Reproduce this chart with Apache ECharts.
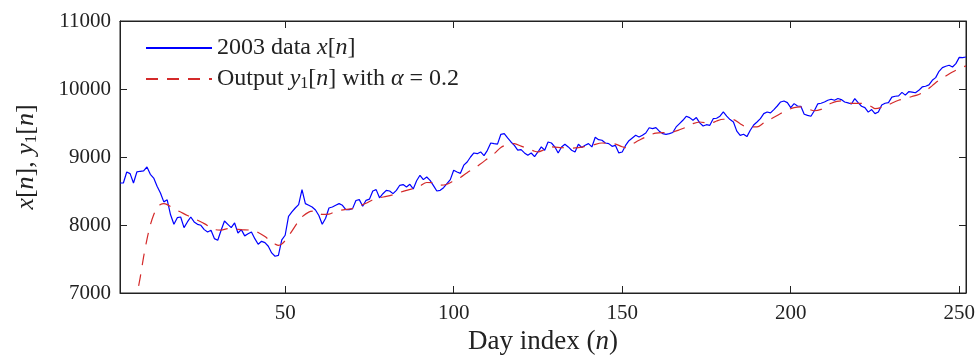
<!DOCTYPE html>
<html>
<head>
<meta charset="utf-8">
<script src="https://cdn.jsdelivr.net/npm/echarts@6/dist/echarts.min.js"></script>
<style>
html,body{margin:0;padding:0;background:#fff;}
#chart{width:977px;height:358px;}
</style>
</head>
<body>
<div id="chart"></div>
<script>
// 2003 data x[n], one value per trading day n = 1..252
const blueValues = [
  8618, 8618, 8780, 8755, 8618, 8780, 8790, 8795, 8853, 8745,
  8690, 8570, 8470, 8340, 8370, 8150, 8010, 8108, 8118, 7961,
  8045, 8118, 8045, 8010, 7996, 7932, 7898, 7922, 7800, 7775,
  7922, 8059, 8010, 7961, 8030, 7883, 7932, 7840, 7870, 7898,
  7799, 7716, 7760, 7740, 7687, 7589, 7540, 7554, 7780, 7849,
  8128, 8192, 8250, 8300, 8520, 8314, 8290, 8265, 8220, 8140,
  8010, 8100, 8250, 8265, 8290, 8314, 8290, 8226, 8226, 8241,
  8360, 8373, 8275, 8363, 8380, 8500, 8520, 8400, 8460, 8510,
  8500, 8461, 8510, 8584, 8594, 8559, 8598, 8530, 8650, 8731,
  8667, 8706, 8657, 8580, 8500, 8510, 8549, 8608, 8667, 8804,
  8780, 8760, 8880, 8927, 9000, 9059, 9049, 9074, 9020, 9098,
  9206, 9196, 9190, 9334, 9343, 9280, 9221, 9170, 9100, 9108,
  9060, 9025, 9059, 9005, 9074, 9148, 9099, 9221, 9206, 9150,
  9059, 9148, 9187, 9148, 9099, 9074, 9187, 9140, 9172, 9197,
  9148, 9290, 9255, 9246, 9206, 9197, 9157, 9170, 9060, 9074,
  9170, 9240, 9280, 9319, 9295, 9319, 9353, 9430, 9417, 9432,
  9380, 9344, 9334, 9344, 9360, 9442, 9491, 9540, 9599, 9579,
  9540, 9580, 9501, 9455, 9475, 9466, 9564, 9570, 9600, 9662,
  9600, 9550, 9515, 9380, 9319, 9334, 9300, 9393, 9470, 9515,
  9564, 9638, 9662, 9648, 9697, 9750, 9809, 9824, 9800, 9726,
  9785, 9750, 9746, 9628, 9613, 9599, 9680, 9780, 9790, 9809,
  9834, 9850, 9834, 9860, 9844, 9809, 9795, 9780, 9858, 9800,
  9746, 9726, 9660, 9697, 9638, 9662, 9765, 9790, 9800, 9880,
  9893, 9900, 9950, 9910, 9960, 9955, 9945, 9980, 10030, 10040,
  10060, 10128, 10167, 10260, 10314, 10334, 10350, 10324, 10373, 10465,
  10461, 10471
];

// Output y1[n], read at the listed days
const redDays = [
  1, 2, 3, 4, 5, 6, 7, 8, 9, 10, 11, 12, 13, 14, 15, 17, 19, 21, 23, 26,
  29, 31, 33, 35, 37, 40, 42, 44, 46, 47, 48, 49, 50, 52, 54, 55, 57, 59, 61, 63,
  65, 68, 70, 72, 74, 76, 78, 80, 82, 84, 86, 88, 90, 92, 94, 96, 98, 100, 102, 104,
  106, 108, 110, 112, 114, 116, 118, 120, 122, 124, 125, 127, 129, 132, 135, 137, 139, 141, 144, 146,
  148, 150, 151, 153, 155, 158, 160, 163, 165, 167, 169, 171, 173, 175, 176, 178, 180, 183, 185, 187,
  190, 192, 194, 197, 199, 201, 203, 205, 207, 209, 210, 212, 215, 218, 220, 222, 224, 225, 227, 229,
  232, 234, 236, 238, 240, 242, 244, 246, 248, 250, 252
];
const redValues = [
  3100, 4240, 5140, 5840, 6430, 6950, 7230, 7530, 7790, 8000, 8150, 8250, 8300, 8314, 8300, 8240, 8190, 8140, 8094, 8020,
  7935, 7925, 7946, 7940, 7932, 7922, 7890, 7830, 7750, 7720, 7700, 7720, 7770, 7910, 8060, 8120, 8190, 8205, 8155, 8160,
  8200, 8230, 8241, 8280, 8320, 8370, 8400, 8420, 8445, 8480, 8510, 8535, 8575, 8625, 8620, 8585, 8600, 8650, 8700, 8770,
  8830, 8900, 8975, 9049, 9140, 9185, 9197, 9160, 9123, 9085, 9074, 9110, 9148, 9138, 9130, 9138, 9155, 9172, 9206, 9200,
  9190, 9150, 9138, 9190, 9245, 9319, 9350, 9360, 9368, 9400, 9440, 9490, 9515, 9500, 9491, 9530, 9555, 9550, 9490, 9442,
  9442, 9500, 9555, 9640, 9690, 9726, 9736, 9710, 9680, 9700, 9736, 9790, 9824, 9790, 9790, 9785, 9740, 9711, 9730, 9770,
  9834, 9860, 9890, 9920, 9971, 10050, 10130, 10190, 10250, 10300, 10340
];

const xTickValues = [50, 100, 150, 200, 250];
const yMin = 7000, yMax = 11000, yStep = 1000;
const xMin = 1, xMax = 252;

const blueData = blueValues.map((v, i) => [i + 1, v]);
const redData = redDays.map((d, i) => [d, redValues[i]]);

const FONT = '"Liberation Serif", "DejaVu Serif", serif';
function richSet(size, sub, lh) {
  return {
    i: { fontFamily: FONT, fontStyle: 'italic', fontSize: size, color: '#222', lineHeight: lh },
    s: { fontFamily: FONT, fontSize: sub, color: '#222', verticalAlign: 'bottom', padding: [Math.round(size * 0.35), 0, 0, 0], lineHeight: lh },
    t: { fontFamily: FONT, fontSize: size, color: '#222', lineHeight: lh }
  };
}

const chart = echarts.init(document.getElementById('chart'), null, { renderer: 'canvas' });
chart.setOption({
  animation: false,
  backgroundColor: '#fff',
  grid: { left: 120, right: 11, top: 21, bottom: 65, outerBoundsMode: 'none', containLabel: false, show: true, borderColor: '#222', borderWidth: 1, backgroundColor: 'transparent' },
  legend: {
    orient: 'vertical', left: 140, top: 31, itemWidth: 66, itemHeight: 14, itemGap: 7,
    data: ['blue', 'red'],
    itemStyle: { opacity: 0 },
    formatter: function (name) {
      return name === 'blue' ? '{t|2003 data }{i|x}{t|[}{i|n}{t|]}'
        : '{t|Output }{i|y}{s|1}{t|[}{i|n}{t|] with }{i|α}{t| = 0.2}';
    },
    textStyle: { fontFamily: FONT, fontSize: 24, color: '#222', rich: richSet(24, 16, 26) }
  },
  xAxis: [{
    type: 'value', min: xMin, max: xMax, position: 'bottom',
    name: 'Day index ({i|n})', nameLocation: 'middle', nameGap: 35,
    nameTextStyle: { fontFamily: FONT, fontSize: 27, color: '#222', rich: { i: { fontFamily: FONT, fontStyle: 'italic', fontSize: 27, color: '#222' } } },
    axisLine: { show: true, onZero: false, lineStyle: { color: '#222', width: 1 } },
    axisTick: { show: true, inside: true, length: 7, customValues: xTickValues, lineStyle: { color: '#222' } },
    axisLabel: { show: true, customValues: xTickValues, fontFamily: FONT, fontSize: 21, color: '#222', margin: 10 },
    splitLine: { show: false }
  }, {
    type: 'value', min: xMin, max: xMax, position: 'top',
    axisLine: { show: true, onZero: false, lineStyle: { color: '#222', width: 1 } },
    axisTick: { show: true, inside: true, length: 7, customValues: xTickValues, lineStyle: { color: '#222' } },
    axisLabel: { show: false },
    splitLine: { show: false }
  }],
  yAxis: [{
    type: 'value', min: yMin, max: yMax, interval: yStep, position: 'left',
    name: '{i|x}{t|[}{i|n}{t|], }{i|y}{s|1}{t|[}{i|n}{t|]}', nameLocation: 'middle', nameGap: 80, nameRotate: 90,
    nameTextStyle: { fontFamily: FONT, fontSize: 26, color: '#222', rich: richSet(26, 17, 28) },
    axisLine: { show: true, lineStyle: { color: '#222', width: 1 } },
    axisTick: { show: true, inside: true, length: 7, lineStyle: { color: '#222' } },
    axisLabel: { fontFamily: FONT, fontSize: 21, color: '#222', margin: 9, formatter: function (v) { return String(v); } },
    splitLine: { show: false }
  }, {
    type: 'value', min: yMin, max: yMax, interval: yStep, position: 'right',
    axisLine: { show: true, lineStyle: { color: '#222', width: 1 } },
    axisTick: { show: true, inside: true, length: 7, lineStyle: { color: '#222' } },
    axisLabel: { show: false },
    splitLine: { show: false }
  }],
  series: [{
    name: 'blue', type: 'line', data: blueData, showSymbol: false, symbol: 'none',
    lineStyle: { color: '#0000ff', width: 1.2 }, itemStyle: { color: '#0000ff' }, clip: true, z: 3
  }, {
    name: 'red', type: 'line', data: redData, showSymbol: false, symbol: 'none', smooth: 0.3,
    lineStyle: { color: '#d42a2a', width: 1.2, type: [12, 9] }, itemStyle: { color: '#d42a2a' }, clip: true, z: 4
  }]
});
</script>
</body>
</html>
